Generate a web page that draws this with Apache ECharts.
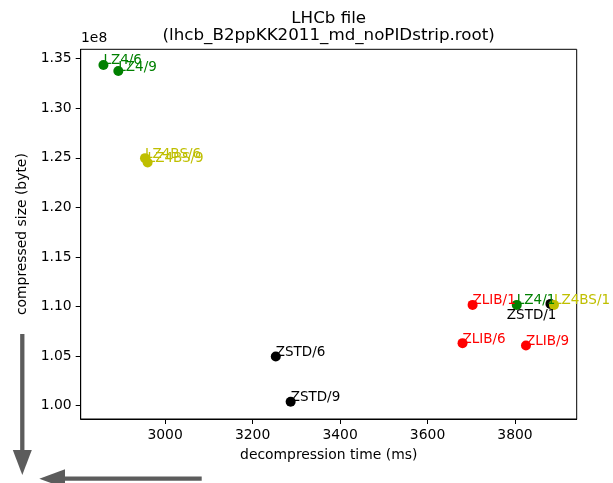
<!DOCTYPE html>
<html>
<head>
<meta charset="utf-8">
<script src="https://cdn.jsdelivr.net/npm/echarts@6/dist/echarts.min.js"></script>
<style>html,body{margin:0;padding:0;background:#fff}#c{width:613px;height:483px}</style>
</head>
<body>
<div id="c"></div>
<script>
// ---- data ----
const names = ['ZLIB/1','ZLIB/6','ZLIB/9','LZ4/1','LZ4/6','LZ4/9','ZSTD/1','ZSTD/6','ZSTD/9','LZ4BS/1','LZ4BS/6','LZ4BS/9'];
const decompTimeMs = [3703, 3680, 3825, 3804, 2859, 2893, 3881, 3253, 3287, 3889, 2954, 2960];
const compressedBytes = [1.1017e8, 1.0631e8, 1.0607e8, 1.1017e8, 1.3437e8, 1.3376e8, 1.1027e8, 1.0496e8, 1.0040e8, 1.1017e8, 1.2497e8, 1.2453e8];
const algoColors = {ZLIB:'#ff0000', LZ4:'#008000', ZSTD:'#000000', LZ4BS:'#bfbf00'};
const xTicks = [3000, 3200, 3400, 3600, 3800];
const yTicks = [1.00e8, 1.05e8, 1.10e8, 1.15e8, 1.20e8, 1.25e8, 1.30e8, 1.35e8];

const FONT = 'DejaVu Sans';
const chart = echarts.init(document.getElementById('c'), null, {renderer:'canvas'});

const data = names.map((n, i) => {
  const col = algoColors[n.split('/')[0]];
  const lbl = n === 'ZSTD/1'
    ? {position:[11, 10], align:'right', verticalAlign:'top'}
    : {position:[5, 8], align:'left', verticalAlign:'bottom'};
  return {
    name: n,
    value: [decompTimeMs[i], compressedBytes[i]],
    itemStyle: {color: col, opacity: 1},
    label: Object.assign({show:true, formatter:n, color:col, fontSize:13.5, fontFamily:FONT}, lbl)
  };
});

const gray = '#5c5c5c';
chart.setOption({
  animation: false,
  textStyle: {fontFamily: FONT},
  grid: {left: 80.7, right: 36.3, top: 49.3, bottom: 64, show: true, borderColor: '#000', borderWidth: 1, backgroundColor: 'transparent'},
  xAxis: {
    type: 'value', min: 2807, max: 3941,
    axisLine: {show: true, lineStyle: {color: '#000', width: 1}},
    axisTick: {show: true, length: 5, customValues: xTicks, lineStyle: {color: '#000'}},
    axisLabel: {customValues: xTicks, color: '#000', fontSize: 13.9, margin: 9, fontFamily: FONT,
      formatter: v => String(v)},
    splitLine: {show: false},
    name: 'decompression time (ms)', nameLocation: 'middle', nameGap: 29,
    nameTextStyle: {color: '#000', fontSize: 13.9, fontFamily: FONT}
  },
  yAxis: {
    type: 'value', min: 0.9866e8, max: 1.3595e8,
    axisLine: {show: true, lineStyle: {color: '#000', width: 1}},
    axisTick: {show: true, length: 5, customValues: yTicks, lineStyle: {color: '#000'}},
    axisLabel: {customValues: yTicks, color: '#000', fontSize: 13.9, margin: 9, fontFamily: FONT,
      formatter: v => (v / 1e8).toFixed(2)},
    splitLine: {show: false},
    name: 'compressed size (byte)', nameLocation: 'middle', nameGap: 49,
    nameTextStyle: {color: '#000', fontSize: 13.9, fontFamily: FONT}
  },
  series: [{
    type: 'scatter',
    symbol: 'circle',
    symbolSize: 10,
    data: data,
    emphasis: {disabled: true}
  }],
  graphic: [
    {type:'text', x: 328.7, y: 19, style:{text:'LHCb file', fill:'#000', font:'16.7px "DejaVu Sans"', textAlign:'center', textVerticalAlign:'middle'}},
    {type:'text', x: 328.7, y: 35.5, style:{text:'(lhcb_B2ppKK2011_md_noPIDstrip.root)', fill:'#000', font:'16.7px "DejaVu Sans"', textAlign:'center', textVerticalAlign:'middle'}},
    {type:'text', left: 81, top: 31, style:{text:'1e8', fill:'#000', font:'13.9px "DejaVu Sans"'}},
    {type:'line', shape:{x1:22.3, y1:334, x2:22.3, y2:452}, style:{stroke:gray, lineWidth:4.3}},
    {type:'polygon', shape:{points:[[12.8,450],[31.8,450],[22.3,475]]}, style:{fill:gray}},
    {type:'line', shape:{x1:201.7, y1:478.7, x2:63, y2:478.7}, style:{stroke:gray, lineWidth:4.3}},
    {type:'polygon', shape:{points:[[65,469.2],[65,488.2],[39.3,478.7]]}, style:{fill:gray}}
  ]
});
</script>
</body>
</html>
